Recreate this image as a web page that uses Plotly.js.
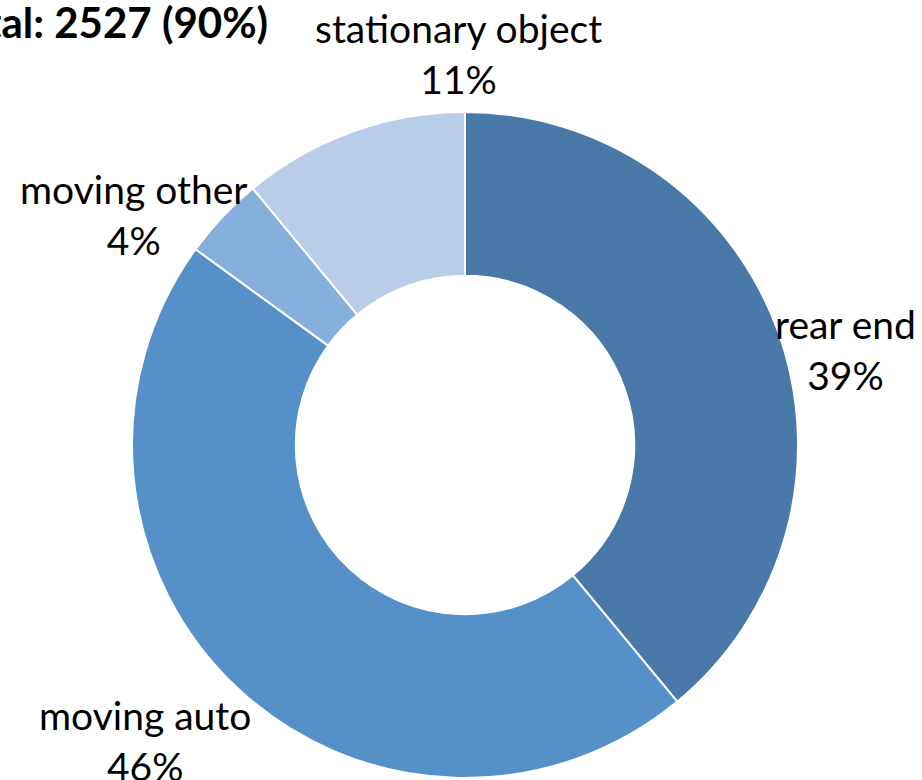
<!DOCTYPE html>
<html>
<head>
<meta charset="utf-8">
<script src="https://cdn.plot.ly/plotly-3.0.1.min.js"></script>
<style>html,body{margin:0;padding:0;background:#fff;}#chart{width:922px;height:780px;}</style>
</head>
<body>
<div id="chart"></div>
<script>
const categories = ["rear end", "moving auto", "moving other", "stationary object"];
const percents = [39, 46, 4, 11];
const colors = ["#4879a9", "#5591c8", "#85afdc", "#b9cde8"];
const titleText = "Total: 2527 (90%)";

const W = 922, H = 780;
const cx = 465, cy = 445, R = 333;

// label block centres (pixels)
const labelPos = [[845, 349], [145, 740], [133, 214], [458, 54]];

const annotations = categories.map((c, i) => ({
  text: c + "<br>" + percents[i] + "%",
  xref: "paper", yref: "paper",
  x: labelPos[i][0] / W, y: 1 - labelPos[i][1] / H,
  xanchor: "center", yanchor: "middle",
  showarrow: false,
  font: {family: "Lato, 'Open Sans', sans-serif", size: 39, color: "#000"}
}));
annotations.push({
  text: "<b>" + titleText + "</b>",
  xref: "paper", yref: "paper",
  x: 270 / W, y: 1 - 22 / H,
  xanchor: "right", yanchor: "middle",
  showarrow: false,
  font: {family: "Lato, 'Open Sans', sans-serif", size: 42, color: "#000"}
});

const trace = {
  type: "pie",
  labels: categories,
  values: percents,
  hole: 0.508,
  sort: false,
  direction: "clockwise",
  rotation: 0,
  textinfo: "none",
  hoverinfo: "label+percent",
  marker: {colors: colors, line: {color: "#ffffff", width: 2}},
  domain: {
    x: [(cx - R) / W, (cx + R) / W],
    y: [(H - cy - R) / H, (H - cy + R) / H]
  },
  showlegend: false
};

Plotly.newPlot("chart", [trace], {
  width: W, height: H,
  margin: {l: 0, r: 0, t: 0, b: 0},
  paper_bgcolor: "#fff",
  showlegend: false,
  annotations: annotations
}, {displayModeBar: false, staticPlot: true});
</script>
</body>
</html>
